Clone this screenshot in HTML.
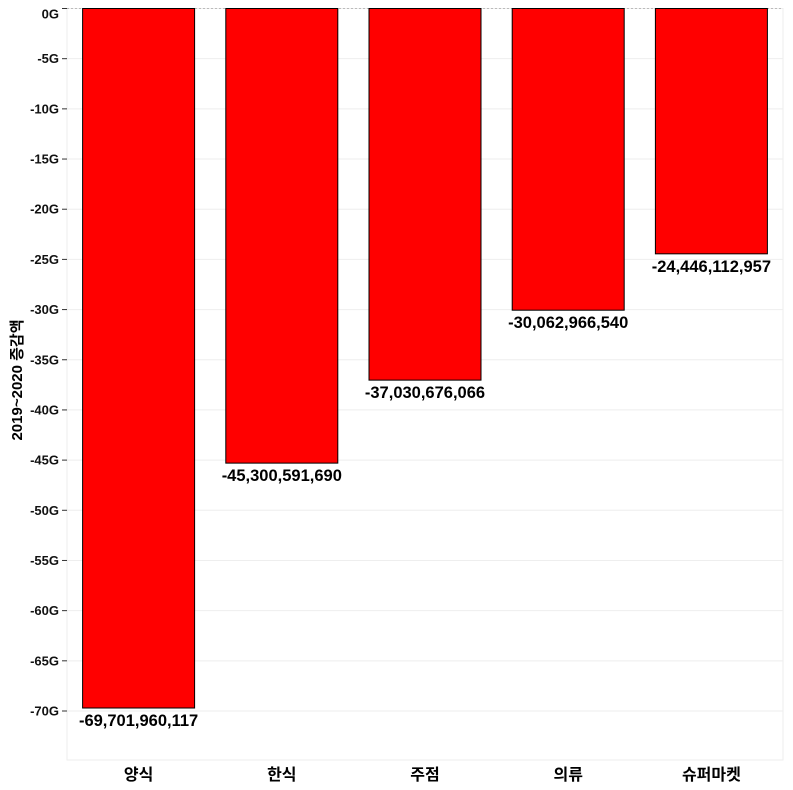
<!DOCTYPE html>
<html><head><meta charset="utf-8"><style>
body{margin:0;background:#fff;}
svg{display:block;font-family:"Liberation Sans","Noto Sans CJK KR",sans-serif;}
</style></head><body>
<svg id="chart" width="793" height="790" xmlns="http://www.w3.org/2000/svg"></svg>
<script>
const categories = ['양식','한식','주점','의류','슈퍼마켓'];
const values = [-69701960117,-45300591690,-37030676066,-30062966540,-24446112957];
const labels = ['-69,701,960,117','-45,300,591,690','-37,030,676,066','-30,062,966,540','-24,446,112,957'];
const ticks = [0,-5,-10,-15,-20,-25,-30,-35,-40,-45,-50,-55,-60,-65,-70];
const NS='http://www.w3.org/2000/svg';
const svg=document.getElementById('chart');
const L=67,R=783,T=8.5,B=760;
const y0=8.5,pxPerG=(711-8.5)/70;
function Y(v){return y0+(-v/1e9)*pxPerG;}
const band=(R-L)/categories.length;
const X=i=>L+band*i+band/2;
function el(t,a,p){const e=document.createElementNS(NS,t);for(const k in a)e.setAttribute(k,a[k]);(p||svg).appendChild(e);return e;}
const frame=el('rect',{x:L,y:T,width:R-L,height:B-T,fill:'none',stroke:'#eee'});


ticks.forEach(t=>{
  const yy=Y(t*1e9);
  const g=el('line',{x1:L,x2:R,y1:yy,y2:yy,stroke:t===0?'#bbb':'#eee','stroke-dasharray':t===0?'2,2':''});
  
  
  const tk=el('line',{x1:L-5,x2:L,y1:yy,y2:yy,stroke:'#333'});
  
  
  const tx=el('text',{x:L-8,y:(t===0?yy+10:yy+4.5),'text-anchor':'end','font-size':'13','font-weight':'bold',fill:'#111'});
  tx.textContent=t+'G';
  
  
});
categories.forEach((c,i)=>{
  const cx=X(i),w=112;
  const b=el('rect',{x:cx-w/2,y:Y(0),width:w,height:Y(values[i])-Y(0),fill:'#ff0000',stroke:'#000','stroke-width':1});
  
  
  const lt=el('text',{x:cx,y:Y(values[i])+18,'text-anchor':'middle','font-size':'16.5','font-weight':'bold',fill:'#000'});
  lt.textContent=labels[i];
  
  
  const ct=el('text',{x:cx,y:780,'text-anchor':'middle','font-size':'16','font-weight':'bold',fill:'#000'});
  ct.textContent=c;
  
  
});
const yt=el('text',{x:0,y:0,transform:'translate(22,380) rotate(-90)','text-anchor':'middle','font-size':'15','font-weight':'bold',fill:'#000'});
yt.textContent='2019~2020 증감액';


</script>
</body></html>
